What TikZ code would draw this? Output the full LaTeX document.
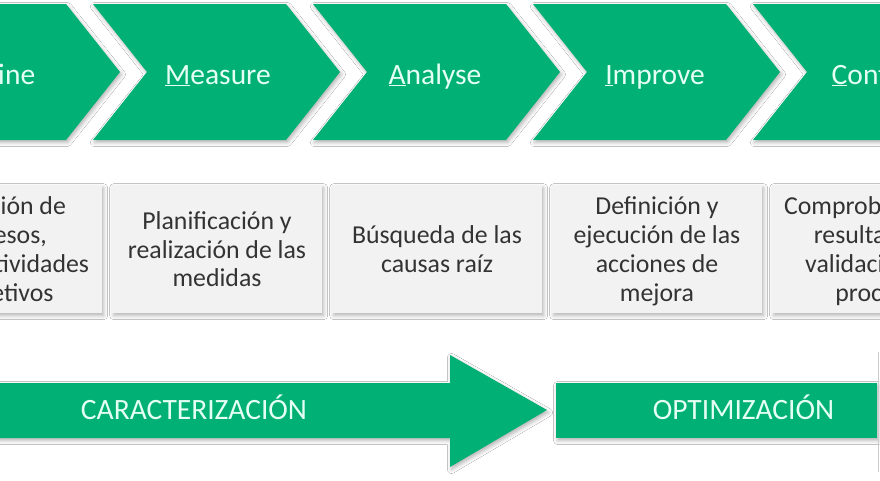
\documentclass[tikz,border=0pt]{standalone}
\usepackage{fontspec}
\setmainfont{Carlito}
\usetikzlibrary{shadows.blur}
\definecolor{sixgreen}{HTML}{00B074}
\definecolor{mint}{HTML}{E4FFF3}
\definecolor{boxgrey}{HTML}{F2F2F2}
\definecolor{boxink}{HTML}{333333}
\newcommand{\boxlines}[1]{\begin{tabular}[t]{@{}c@{}}#1\end{tabular}}
\begin{document}
\begin{tikzpicture}[x=1pt,y=-1pt,
  softshadow/.style={blur shadow={shadow xshift=1.5pt, shadow yshift=-2.5pt, shadow blur radius=4pt, shadow opacity=30}},
  phase/.style={fill=sixgreen, softshadow},
  phasetext/.style={text=mint, font=\fontsize{29.5}{34}\selectfont, anchor=base, inner sep=0pt},
  stepbox/.style={fill=boxgrey, minimum width=210pt, minimum height=128pt, anchor=north west, inner sep=0pt, softshadow},
  steptext/.style={text=boxink, font=\fontsize{25.8}{28.8}\selectfont, anchor=base, inner sep=0pt},
]
\useasboundingbox (0,0) rectangle (880,480);
\clip (0,0) rectangle (880,480);
\fill[white] (0,0) rectangle (880,480);

% chevrons
\foreach \x in {-127,93,313,533,753}{
  \path[phase] (\x,4) -- (\x+193,4) -- (\x+247,72) -- (\x+193,140) -- (\x,140) -- (\x+54,72) -- cycle;
}
\node[phasetext] (tdefine)  at (-4,84)  {\underline{D}efine};
\node[phasetext] (tmeasure) at (218,84) {\underline{M}easure};
\node[phasetext] (tanalyse) at (435,84) {\underline{A}nalyse};
\node[phasetext] (timprove) at (655,84) {\underline{I}mprove};
\node[phasetext] (tcontrol) at (876,84) {\underline{C}ontrol};

% boxes
\node[stepbox] (bdefine)  at (-108,185) {};
\node[stepbox] (bmeasure) at (112,185) {};
\node[stepbox] (banalyse) at (332,185) {};
\node[stepbox] (bimprove) at (552,185) {};
\node[stepbox] (bcontrol) at (772,185) {};

\node[steptext] (sdefine)  at (-3,214.8)  {\boxlines{Definición de\\procesos,\\de las actividades\\y objetivos}};
\node[steptext] (smeasure) at (217,229.2)  {\boxlines{Planificación y\\realización de las\\medidas}};
\node[steptext] (sanalyse) at (437,243.6)  {\boxlines{Búsqueda de las\\causas raíz}};
\node[steptext] (simprove) at (657,214.8)  {\boxlines{Definición y\\ejecución de las\\acciones de\\mejora}};
\node[steptext] (scontrol) at (877,214.8)  {\boxlines{Comprobación de\\resultados y\\validación del\\proceso}};

% bottom arrows
\path[phase] (-60,383) -- (450,383) -- (450,355) -- (547,410) -- (450,467) -- (450,438) -- (-60,438) -- cycle;
\node[phasetext] (tcarac) at (194,419.5) {CARACTERIZACIÓN};
\path[phase] (556,383) rectangle (877,438);
\node[phasetext] (toptim) at (743.5,419.5) {OPTIMIZACIÓN};
\draw[gray!40, line width=0.8pt] (878.6,352) -- (878.6,472);
\end{tikzpicture}
\end{document}
